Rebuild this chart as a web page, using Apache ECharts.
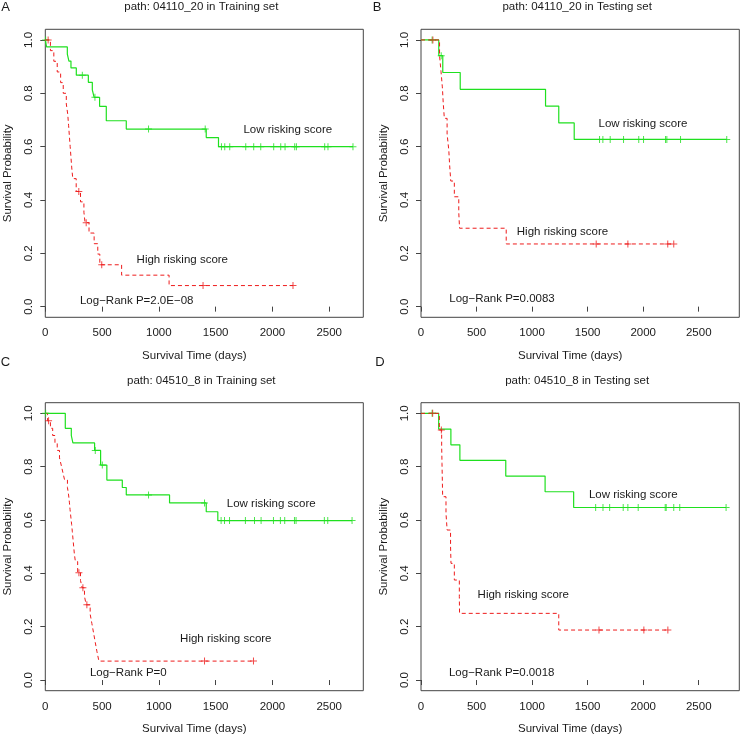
<!DOCTYPE html>
<html>
<head>
<meta charset="utf-8">
<script src="https://cdn.jsdelivr.net/npm/echarts@6/dist/echarts.min.js"></script>
<style>html,body{margin:0;padding:0;background:#fff}#c{width:740px;height:736px}</style>
</head>
<body>
<div id="c"></div>
<script>
// ---------- data ----------
const panelTitles = ['path: 04110_20 in Training set','path: 04110_20 in Testing set','path: 04510_8 in Training set','path: 04510_8 in Testing set'];
const panelLetters = ['A','B','C','D'];
const pValues = ['Log\u2212Rank P=2.0E\u221208','Log\u2212Rank P=0.0083','Log\u2212Rank P=0','Log\u2212Rank P=0.0018'];
const xTicks = [0,500,1000,1500,2000,2500];
const yTicks = [0,0.2,0.4,0.6,0.8,1.0];

// Panel A
const A_lowT = [0,11,194,208,226,273,379,414,430,478,537,713,1417,1525];
const A_lowS = [1,0.974,0.947,0.921,0.895,0.868,0.841,0.813,0.785,0.751,0.697,0.666,0.634,0.600];
const A_lowCens = [3,326,437,909,1408,1551,1580,1624,1765,1835,1897,2011,2073,2111,2196,2211,2460,2489,2709];
const A_highT = [0,45,75,105,135,158,185,198,205,212,219,226,233,242,272,310,340,350,385,430,462,480,672,1090];
const A_highS = [1,0.96,0.92,0.88,0.84,0.80,0.76,0.72,0.68,0.64,0.60,0.56,0.52,0.48,0.432,0.393,0.354,0.315,0.276,0.236,0.197,0.157,0.118,0.079];
const A_highCens = [25,295,360,497,1389,2181];

// Panel B
const B_lowT = [0,160,196,353,1121,1240,1379];
const B_lowS = [1,0.941,0.878,0.815,0.752,0.689,0.627];
const B_lowCens = [100,182,1607,1637,1703,1823,1960,2003,2201,2213,2336,2752];
const B_highT = [0,167,180,192,200,210,235,250,258,268,300,340,347,767];
const B_highS = [1,0.941,0.882,0.824,0.765,0.706,0.647,0.588,0.529,0.471,0.412,0.353,0.294,0.235];
const B_highCens = [107,1577,1862,2221,2275];

// Panel C
const C_lowT = [0,176,229,243,434,487,542,678,713,1094,1417,1519];
const C_lowS = [1,0.944,0.917,0.889,0.861,0.806,0.750,0.722,0.694,0.664,0.631,0.598];
const C_lowCens = [3,440,502,909,1402,1548,1578,1622,1762,1842,1900,2009,2070,2108,2194,2208,2457,2487,2701];
const C_highT = [0,20,45,65,85,105,125,140,155,170,195,205,212,218,225,232,238,244,250,256,265,285,310,325,345,360,395,410,425,440,455,472];
const C_highS = [1,0.972,0.944,0.917,0.889,0.861,0.833,0.806,0.778,0.750,0.722,0.694,0.667,0.639,0.611,0.583,0.556,0.528,0.500,0.472,0.444,0.402,0.373,0.346,0.314,0.282,0.247,0.212,0.177,0.141,0.106,0.071];
const C_highCens = [29,296,331,366,1402,1833];

// Panel D
const D_lowT = [0,159,269,350,763,1117,1374];
const D_lowS = [1,0.941,0.882,0.824,0.765,0.706,0.647];
const D_lowCens = [100,1572,1638,1698,1820,1862,1955,2198,2207,2275,2329,2746];
const D_highT = [0,165,186,189,192,195,225,235,266,270,300,345,347,1240];
const D_highS = [1,0.9375,0.875,0.8125,0.75,0.6875,0.625,0.5625,0.5,0.4375,0.375,0.3125,0.25,0.1875];
const D_highCens = [105,183,1602,2006,2222];

// ---------- layout / style ----------
const FONT = '"Liberation Sans", Arial, Helvetica, sans-serif';
const GREEN = '#1fe01f';
const RED = '#ee1c1c';
const INK = '#1a1a1a';
const BOX = '#444';
const PLUS = 'path://M3,0h1v3h3v1h-3v3h-1v-3h-3v-1h3z';

const panels = [
  {lowT:A_lowT, lowS:A_lowS, lowC:A_lowCens, highT:A_highT, highS:A_highS, highC:A_highCens,
   grid:{left:45.3, top:29.3, width:318, height:288}, xMax:2800,
   low:[287.8,130], high:[182.3,260], p:[136.7,301]},
  {lowT:B_lowT, lowS:B_lowS, lowC:B_lowCens, highT:B_highT, highS:B_highS, highC:B_highCens,
   grid:{left:421, top:29.3, width:318.3, height:288}, xMax:2865,
   low:[643,124], high:[562.5,232.3], p:[502,299]},
  {lowT:C_lowT, lowS:C_lowS, lowC:C_lowCens, highT:C_highT, highS:C_highS, highC:C_highCens,
   grid:{left:45.3, top:402.7, width:318, height:288}, xMax:2800,
   low:[271.2,504], high:[225.8,639.3], p:[128.3,673.3]},
  {lowT:D_lowT, lowS:D_lowS, lowC:D_lowCens, highT:D_highT, highS:D_highS, highC:D_highCens,
   grid:{left:421, top:402.7, width:318.3, height:288}, xMax:2865,
   low:[633.3,494.7], high:[523.3,594.7], p:[501.7,673.3]}
];

function levelAt(T, S, t) {
  let s = S[0];
  for (let i = 0; i < T.length; i++) if (T[i] <= t) s = S[i];
  return s;
}
function stepData(T, S, C) {
  const d = T.map((t, i) => [t, S[i]]);
  const last = Math.max(...C);
  if (last > T[T.length - 1]) d.push([last, S[S.length - 1]]);
  return d;
}

const grids = [], xAxes = [], yAxes = [], series = [], graphic = [];
function txt(x, y, text, size, extra) {
  graphic.push(Object.assign({
    type: 'text', x: x, y: y, silent: true,
    style: {text: text, fill: INK, font: size + 'px ' + FONT, align: 'center', verticalAlign: 'middle'}
  }, extra || {}));
}

panels.forEach((p, i) => {
  grids.push(Object.assign({show: true, borderColor: BOX, borderWidth: 1, backgroundColor: 'transparent'}, p.grid));
  xAxes.push({
    type: 'value', gridIndex: i, min: 0, max: p.xMax,
    axisLine: {show: false},
    axisTick: {show: true, length: 5, lineStyle: {color: BOX}, customValues: xTicks},
    axisLabel: {show: true, customValues: xTicks, margin: 10, fontSize: 11.5, fontFamily: FONT, color: INK,
      formatter: v => String(v)},
    splitLine: {show: false}
  });
  yAxes.push({
    type: 'value', gridIndex: i, min: -0.04, max: 1.04,
    axisLine: {show: false},
    axisTick: {show: true, length: 5, lineStyle: {color: BOX}, customValues: yTicks},
    axisLabel: {show: true, customValues: yTicks, rotate: 90, margin: 10, fontSize: 11.5, fontFamily: FONT, color: INK,
      formatter: v => v.toFixed(1)},
    splitLine: {show: false}
  });
  series.push({
    type: 'line', xAxisIndex: i, yAxisIndex: i, step: 'end', showSymbol: false, silent: true,
    data: stepData(p.lowT, p.lowS, p.lowC), lineStyle: {color: GREEN, width: 1.2}, z: 2
  });
  series.push({
    type: 'line', xAxisIndex: i, yAxisIndex: i, step: 'end', showSymbol: false, silent: true,
    data: stepData(p.highT, p.highS, p.highC), lineStyle: {color: RED, width: 1, type: [4, 3]}, z: 3
  });
  series.push({
    type: 'scatter', xAxisIndex: i, yAxisIndex: i, symbol: PLUS, symbolSize: 7, silent: true,
    itemStyle: {color: GREEN}, z: 4,
    data: p.lowC.map(t => [t, levelAt(p.lowT, p.lowS, t)])
  });
  series.push({
    type: 'scatter', xAxisIndex: i, yAxisIndex: i, symbol: PLUS, symbolSize: 7, silent: true,
    itemStyle: {color: RED}, z: 5,
    data: p.highC.map(t => [t, levelAt(p.highT, p.highS, t)])
  });

  const g = p.grid;
  const cx = g.left + g.width / 2, cy = g.top + g.height / 2;
  txt(cx - 3, g.top - 22, panelTitles[i], 11.5);
  txt(g.left - 37, cy, 'Survival Probability', 11.5, {rotation: Math.PI / 2});
  txt(cx - 10, g.top + g.height + 38.5, 'Survival Time (days)', 11.5);
  txt(p.low[0], p.low[1], 'Low risking score', 11.5);
  txt(p.high[0], p.high[1], 'High risking score', 11.5);
  txt(p.p[0], p.p[1], pValues[i], 11.5);
});
txt(5.5, 7, panelLetters[0], 13);
txt(377, 7, panelLetters[1], 13);
txt(5.5, 362, panelLetters[2], 13);
txt(380, 362, panelLetters[3], 13);

const chart = echarts.init(document.getElementById('c'), null, {renderer: 'canvas'});
chart.setOption({
  animation: false,
  backgroundColor: '#fff',
  grid: grids, xAxis: xAxes, yAxis: yAxes, series: series, graphic: graphic
});
</script>
</body>
</html>
